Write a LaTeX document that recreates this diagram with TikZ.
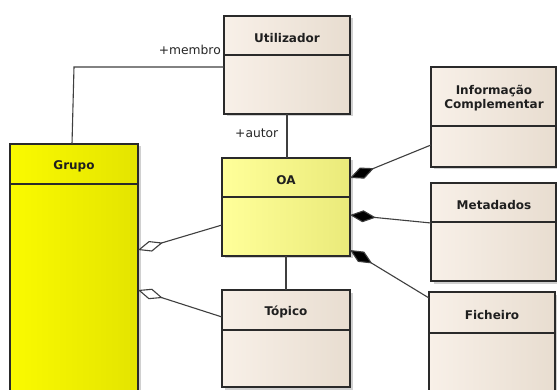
\documentclass[tikz,border=0pt]{standalone}
\usepackage{fontspec}
\setmainfont{DejaVu Sans}
\usetikzlibrary{arrows.meta,shadows}
\definecolor{beigeL}{HTML}{F8F0E8}
\definecolor{beigeR}{HTML}{E8DDD0}
\definecolor{grpL}{HTML}{FAFA00}
\definecolor{grpM}{HTML}{FFFF00}
\definecolor{grpR}{HTML}{E4E400}
\definecolor{oaL}{HTML}{FFFF9A}
\definecolor{oaR}{HTML}{EAEA7A}
\definecolor{edge}{HTML}{2A2A2A}
\begin{document}
\begin{tikzpicture}[x=1pt,y=-1pt,
  box/.style={draw=edge, line width=1.2pt, anchor=north west, inner sep=0pt, outer sep=0pt,
    drop shadow={shadow xshift=2.5pt, shadow yshift=-2.5pt, opacity=0.3, fill=black!60}},
  cls/.style={box, left color=beigeL, right color=beigeR},
  grp/.style={box, left color=grpL, middle color=grpM, right color=grpR},
  oacls/.style={box, left color=oaL, right color=oaR},
  title/.style={font=\bfseries\fontsize{12}{13.5}\selectfont, text=black!88, align=center, inner sep=0pt},
  lbl/.style={font=\fontsize{12.3}{14}\selectfont, text=black!85, inner sep=0pt},
  sep/.style={draw=edge, line width=1.2pt},
  assoc/.style={draw=edge!90, line width=1.1pt},
  comp/.style={assoc, -{Diamond[length=26pt,width=12pt,fill=black]}},
  aggr/.style={assoc, -{Diamond[open,length=26pt,width=11pt,fill=white]}}
]
\useasboundingbox (0,0) rectangle (557,390);
\clip (0,0) rectangle (557,390);
\fill[white] (0,0) rectangle (557,390);

% classes
\node[cls, minimum width=126pt, minimum height=98pt] (util) at (224,16) {};
\node[grp, minimum width=128pt, minimum height=260pt] (grupo) at (10,144) {};
\node[oacls, minimum width=128pt, minimum height=98pt] (oa) at (222,158) {};
\node[cls, minimum width=128pt, minimum height=97pt] (topico) at (222,290) {};
\node[cls, minimum width=125pt, minimum height=100pt] (info) at (431,67) {};
\node[cls, minimum width=125pt, minimum height=98pt] (meta) at (431,183) {};
\node[cls, minimum width=126pt, minimum height=110pt] (fich) at (429,292) {};

% separators
\draw[sep] (util.west |- 0,55) -- (util.east |- 0,55);
\draw[sep] (grupo.west |- 0,184) -- (grupo.east |- 0,184);
\draw[sep] (oa.west |- 0,197) -- (oa.east |- 0,197);
\draw[sep] (topico.west |- 0,330) -- (topico.east |- 0,330);
\draw[sep] (info.west |- 0,126) -- (info.east |- 0,126);
\draw[sep] (meta.west |- 0,222) -- (meta.east |- 0,222);
\draw[sep] (fich.west |- 0,333) -- (fich.east |- 0,333);

% titles
\node[title] (tutil) at (287,38) {Utilizador};
\node[title] (tgrupo) at (74,166) {Grupo};
\node[title] (toa) at (286,180) {OA};
\node[title] (ttopico) at (286,312) {Tópico};
\node[title] (tinfo) at (494,98) {Informação\\[0.5pt]Complementar};
\node[title] (tmeta) at (494,205) {Metadados};
\node[title] (tfich) at (492,315) {Ficheiro};

% connectors
\draw[assoc] (grupo.north -| 72,0) -- (72,67 -| grupo.north) -- (util.west |- 0,67);
\draw[assoc] (util.south) -- (util.south |- oa.north);
\draw[assoc] (oa.south) -- (oa.south |- topico.north);
\draw[comp] (info.west |- 0,145) -- (oa.east |- 0,178);
\draw[comp] (meta.west |- 0,223) -- (oa.east |- 0,215);
\draw[comp] (fich.west |- 0,298) -- (oa.east |- 0,250);
\draw[aggr] (oa.west |- 0,225) -- (grupo.east |- 0,250);
\draw[aggr] (topico.west |- 0,317) -- (grupo.east |- 0,290);

% role labels
\node[lbl, anchor=base east] (lmembro) at (221,55) {+membro};
\node[lbl, anchor=base west] (lautor) at (235,138) {+autor};
\end{tikzpicture}
\end{document}
